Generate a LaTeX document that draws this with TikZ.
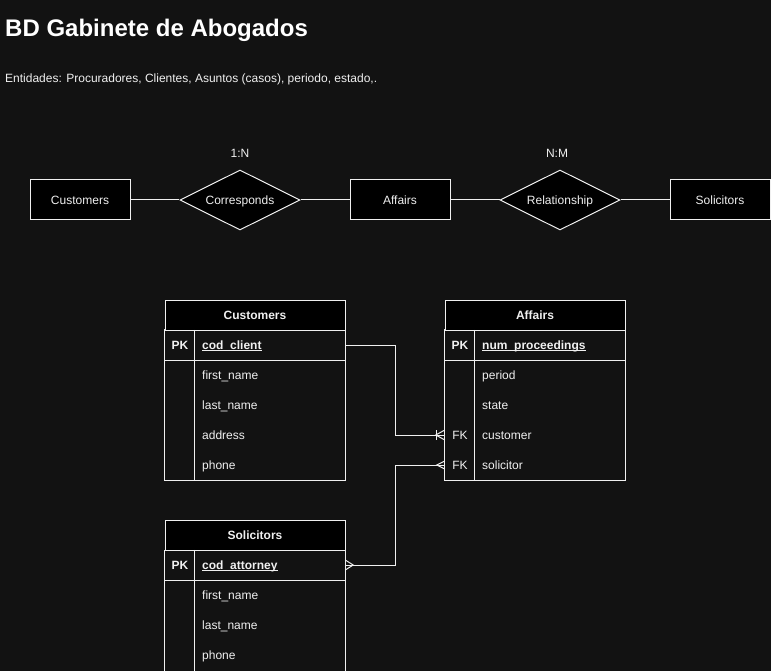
\documentclass[tikz,border=0pt]{standalone}
\usepackage{fontspec}
\setmainfont{Liberation Sans}
\usetikzlibrary{shapes.geometric}
\definecolor{bg}{HTML}{121212}
\definecolor{fg}{HTML}{F0F0F0}
\tikzset{
  ln/.style={draw=fg, line width=1pt},
  lbl/.style={text=fg, font=\fontsize{12pt}{14pt}\selectfont, inner sep=0pt, text height=8.6pt, text depth=0pt},
  ent/.style={lbl, ln, fill=black, minimum width=100pt, minimum height=40pt},
  rel/.style={lbl, ln, diamond, fill=black, aspect=2, minimum width=120pt, minimum height=60pt},
  tblhdr/.style={lbl, ln, fill=black, minimum width=180pt, minimum height=30pt, font=\fontsize{12pt}{14pt}\selectfont\bfseries},
  tblrow/.style={inner sep=0pt, minimum width=180pt, minimum height=30pt},
  keytxt/.style={lbl},
  fieldtxt/.style={lbl, anchor=west},
  pktxt/.style={lbl, anchor=west, font=\fontsize{12pt}{14pt}\selectfont\bfseries},
}
\begin{document}
\begin{tikzpicture}[x=1pt, y=-1pt]
\fill[bg] (0,0) rectangle (771,671);
\useasboundingbox (0,0) rectangle (771,671);

% titles
\node[anchor=base west, inner sep=0pt, text=white, font=\fontsize{24pt}{28pt}\selectfont\bfseries] (title) at (5,37) {BD Gabinete de Abogados};
\node[anchor=base west, inner sep=0pt, text=fg, font=\fontsize{12pt}{14pt}\selectfont] (sub) at (5,83) {Entidades: Procuradores, Clientes, Asuntos (casos), periodo, estado,.};

% conceptual ER row
\node[ent] (e1) at (80,200) {Customers};
\node[rel] (r1) at (240,200) {Corresponds};
\node[ent] (e2) at (400,200) {Affairs};
\node[rel] (r2) at (560,200) {Relationship};
\node[ent] (e3) at (720,200) {Solicitors};
\node[lbl] (c1) at (240,153) {1:N};
\node[lbl] (c2) at (557,153) {N:M};
\draw[ln] (e1) -- (r1);
\draw[ln] (r1) -- (e2);
\draw[ln] (e2) -- (r2);
\draw[ln] (r2) -- (e3);

% ---- Customers table
\node[tblrow] (cpk) at (255,345) {};
\node[tblrow] (cr1) at (255,375) {};
\node[tblrow] (cr2) at (255,405) {};
\node[tblrow] (cr3) at (255,435) {};
\node[tblrow] (cr4) at (255,465) {};
\draw[ln] (cpk.north west) rectangle (cr4.south east);
\node[tblhdr] (ch) at (255,315) {Customers};
\draw[ln] (cpk.south west) -- (cpk.south east);
\draw[ln] ([xshift=30pt]cpk.north west) -- ([xshift=30pt]cr4.south west);
\node[keytxt, font=\fontsize{12pt}{14pt}\selectfont\bfseries] (ck) at (180,345) {PK};
\node[pktxt] (ct0) at (202,345) {cod\_client};
\draw[ln] ([yshift=-1pt]ct0.base west) -- ([yshift=-1pt]ct0.base east);
\node[fieldtxt] (ct1) at (202,375) {first\_name};
\node[fieldtxt] (ct2) at (202,405) {last\_name};
\node[fieldtxt] (ct3) at (202,435) {address};
\node[fieldtxt] (ct4) at (202,465) {phone};

% ---- Affairs table
\node[tblrow] (apk) at (535,345) {};
\node[tblrow] (ar1) at (535,375) {};
\node[tblrow] (ar2) at (535,405) {};
\node[tblrow] (ar3) at (535,435) {};
\node[tblrow] (ar4) at (535,465) {};
\draw[ln] (apk.north west) rectangle (ar4.south east);
\node[tblhdr] (ah) at (535,315) {Affairs};
\draw[ln] (apk.south west) -- (apk.south east);
\draw[ln] ([xshift=30pt]apk.north west) -- ([xshift=30pt]ar4.south west);
\node[keytxt, font=\fontsize{12pt}{14pt}\selectfont\bfseries] (ak) at (460,345) {PK};
\node[pktxt] (at0) at (482,345) {num\_proceedings};
\draw[ln] ([yshift=-1pt]at0.base west) -- ([yshift=-1pt]at0.base east);
\node[fieldtxt] (at1) at (482,375) {period};
\node[fieldtxt] (at2) at (482,405) {state};
\node[keytxt] (ak3) at (460,435) {FK};
\node[fieldtxt] (at3) at (482,435) {customer};
\node[keytxt] (ak4) at (460,465) {FK};
\node[fieldtxt] (at4) at (482,465) {solicitor};

% ---- Solicitors table
\node[tblrow] (spk) at (255,565) {};
\node[tblrow] (sr1) at (255,595) {};
\node[tblrow] (sr2) at (255,625) {};
\node[tblrow] (sr3) at (255,655) {};
\draw[ln] (spk.north west) -- ([yshift=-2pt]sr3.south west);
\draw[ln] (spk.north east) -- ([yshift=-2pt]sr3.south east);
\node[tblhdr] (sh) at (255,535) {Solicitors};
\draw[ln] (spk.south west) -- (spk.south east);
\draw[ln] ([xshift=30pt]spk.north west) -- ([xshift=30pt,yshift=-2pt]sr3.south west);
\node[keytxt, font=\fontsize{12pt}{14pt}\selectfont\bfseries] (sk) at (180,565) {PK};
\node[pktxt] (st0) at (202,565) {cod\_attorney};
\draw[ln] ([yshift=-1pt]st0.base west) -- ([yshift=-1pt]st0.base east);
\node[fieldtxt] (st1) at (202,595) {first\_name};
\node[fieldtxt] (st2) at (202,625) {last\_name};
\node[fieldtxt] (st3) at (202,655) {phone};

% ---- connectors
\coordinate (jx) at (395,0);
\draw[ln] (cpk.east) -- (cpk.east -| jx) |- (ar3.west);
\draw[ln] (spk.east) -- (spk.east -| jx) |- (ar4.west);
% one-to-many at Affairs.customer
\draw[ln] ([yshift=5pt]ar3.west) -- ([xshift=-9pt]ar3.west) -- ([yshift=-5pt]ar3.west);
\draw[ln] ([xshift=-8pt,yshift=5pt]ar3.west) -- ([xshift=-8pt,yshift=-5pt]ar3.west);
% many at Affairs.solicitor
\draw[ln] ([yshift=4pt]ar4.west) -- ([xshift=-8pt]ar4.west) -- ([yshift=-4pt]ar4.west);
% many at Solicitors.cod_attorney
\draw[ln] ([yshift=5pt]spk.east) -- ([xshift=8pt]spk.east) -- ([yshift=-5pt]spk.east);
\end{tikzpicture}
\end{document}
